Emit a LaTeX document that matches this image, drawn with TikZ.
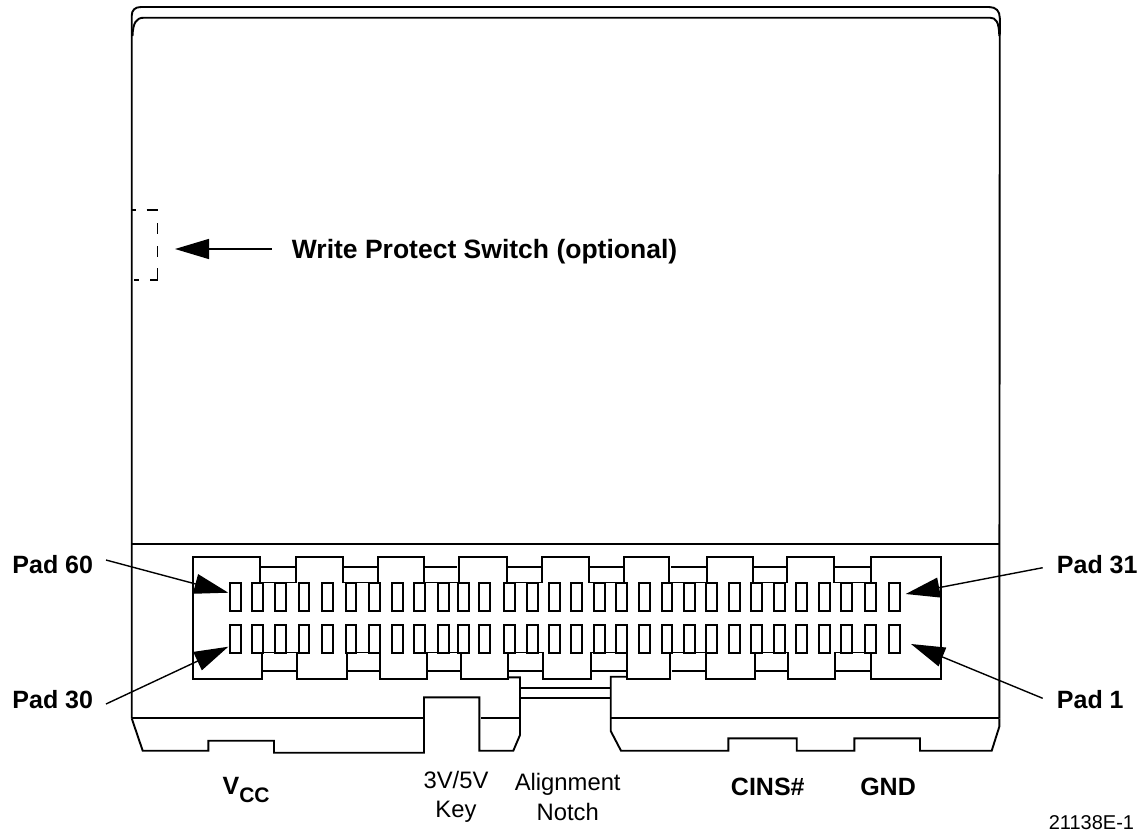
\documentclass[tikz,border=0pt]{standalone}
\usepackage{fontspec}
\setmainfont{Liberation Sans}
\usetikzlibrary{arrows.meta}

\begin{document}
\begin{tikzpicture}[x=1pt,y=-1pt,line width=1.9pt,line join=miter,
                    callout/.style={line width=1.4pt,-{Triangle[length=34pt,width=20pt]}},
                    padbox/.style={draw,fill=white,inner sep=0pt,minimum width=10.8pt,minimum height=28.1pt},
                    boldlabel/.style={font=\bfseries\fontsize{25}{25}\selectfont,inner sep=0pt},
                    keylabel/.style={font=\fontsize{23.8}{29.3}\selectfont,align=center,inner sep=0pt}]
  \useasboundingbox (0,0) rectangle (1146,831);

  % card body
  \draw (131.7,718.3) -- (131.7,16) .. controls (131.7,10) and (135,7) .. (141,7) -- (989,7)
        .. controls (996,7) and (999.8,11) .. (999.8,18) -- (999.3,718.3);
  \draw (132.5,36) .. controls (133,23) and (136,17.7) .. (144,17.7) -- (990,17.7)
        .. controls (996,17.7) and (999,22) .. (999.3,36);
  \draw (131.7,543.7) -- (999.3,543.7);

  % write protect
  \draw[line width=1.5pt,dash pattern=on 4pt off 11pt on 12pt off 12pt on 11pt off 12pt on 11pt off 11pt on 20pt off 11pt on 5pt]
        (131.7,210) -- (157.7,210) -- (157.7,280) -- (131.7,280);

  % socket outline
  \draw (192.7,679.3) -- (192.7,557.3) -- (260,557.3) -- (260,582.5) -- (295.7,582.5) -- (295.7,557.3)
        -- (342.7,557.3) -- (342.7,582.5) -- (378.3,582.5) -- (378.3,557.3)
        -- (424,557.3) -- (424,582.5) -- (458.7,582.5) -- (458.7,557.3)
        -- (507.3,557.3) -- (507.3,582.5) -- (542.3,582.5) -- (542.3,557.3)
        -- (588.7,557.3) -- (588.7,582.5) -- (624,582.5) -- (624,557.3)
        -- (669.3,557.3) -- (669.3,582.5) -- (706.7,582.5) -- (706.7,557.3)
        -- (753.3,557.3) -- (753.3,582.5) -- (786.7,582.5) -- (786.7,557.3)
        -- (834,557.3) -- (834,582.5) -- (871,582.5) -- (871,557.3)
        -- (941.3,557.3) -- (941.3,679.3) -- (871,679.3) -- (871,652.5) -- (835,652.5) -- (835,679.3)
        -- (787.7,679.3) -- (787.7,652.5) -- (755.3,652.5) -- (755.3,679.3)
        -- (706,679.3) -- (706,652.5) -- (670,652.5) -- (670,679.3)
        -- (626.7,679.3) -- (626.7,652.5) -- (590.7,652.5) -- (590.7,679.3)
        -- (543.3,679.3) -- (543.3,652.5) -- (508.3,652.5) -- (508.3,679.3)
        -- (461,679.3) -- (461,652.5) -- (427.3,652.5) -- (427.3,679.3)
        -- (380,679.3) -- (380,652.5) -- (346.7,652.5) -- (346.7,679.3)
        -- (296.7,679.3) -- (296.7,652.5) -- (261.7,652.5) -- (261.7,679.3) -- cycle;
  \foreach \a/\b in {260/295.7,342.7/378.3,424/456.7,507.3/542.3,588.7/624,671/706.7,753.3/786.7,834/871}
    \draw (\a,566.7) -- (\b,566.7);
  \foreach \a/\b in {261.7/296.7,346.7/380,427.3/461,508.3/543.3,590.7/626.7,671.7/706,755.3/787.7,835/871}
    \draw (\a,670.7) -- (\b,670.7);

  % edge with key and notch
  \draw (508.3,677.3) -- (520,677.3) -- (520,735) -- (513.3,750.7) -- (479.3,750.7) -- (479.3,697.3)
        -- (424,697.3) -- (424,752.7) -- (274,752.7) -- (274,740.7) -- (208.3,740.7) -- (208.3,750.7)
        -- (142.7,750.7) -- (131.7,718.3);
  \draw (626.7,676.7) -- (610.7,676.7) -- (610.7,731) -- (621,750.7) -- (728.3,750.7) -- (728.3,738.3)
        -- (796.7,738.3) -- (796.7,750.7) -- (854.3,750.7) -- (854.3,738.3) -- (920,738.3) -- (920,750.7)
        -- (991.7,750.7) -- (999.3,726.7) -- (999.3,718.3);
  \draw (131.7,718) -- (424,718);
  \draw (481,718) -- (520,718);
  \draw (610.7,718) -- (999.3,718);
  \draw (520,688.3) -- (610.7,688.3);
  \draw (520,698.3) -- (610.7,698.3);

  % pads
  \foreach \x [count=\n] in {235.7,257.2,280.5,304,327.7,351,374.7,397.8,419.7,443.2,
                             463.7,484.2,509.5,532.2,554.5,576.8,599.3,621.8,644.3,667,
                             689.3,711.5,734.2,756.7,779.2,801.7,824.2,846.7,870.7,894.2}{
    \node[padbox] (top\n) at (\x,596.7) {};
    \node[padbox] (bot\n) at (\x,638.7) {};
  }

  % labels
  \node[boldlabel,font=\bfseries\fontsize{26.5}{26.5}\selectfont,anchor=base west] (wps) at (291,258.3)
       {Write Protect Switch (optional)};
  \node[boldlabel,anchor=base east] (pad60) at (94,573.3)    {Pad 60};
  \node[boldlabel,anchor=base east] (pad30) at (94,708.7)    {Pad 30};
  \node[boldlabel,anchor=base west] (pad31) at (1056,573.3)  {Pad 31};
  \node[boldlabel,anchor=base west] (pad1)  at (1056,708.7)  {Pad 1};
  \node[boldlabel,anchor=base west] (vcc)   at (221.7,794)
       {V\lower8pt\hbox{\fontsize{21}{21}\selectfont CC}};
  \node[boldlabel,anchor=base west] (cins)  at (730,795)     {CINS\#};
  \node[boldlabel,anchor=base west] (gnd)   at (859.3,795)   {GND};
  \node[keylabel]                   (key)   at (456,797)     {3V/5V\\Key};
  \node[keylabel]                   (notch) at (567.7,797)   {Alignment\\Notch};
  \node[font=\fontsize{20}{20}\selectfont,inner sep=0pt,anchor=base east] (figno) at (1135,829) {21138E-1};

  % callouts
  \coordinate (wpsTail) at (271.7,249);
  \coordinate (wpsTip)  at (175,249);
  \coordinate (p60Tail) at (106,560);
  \coordinate (p60Tip)  at (228.3,592.7);
  \coordinate (p30Tail) at (106,704);
  \coordinate (p30Tip)  at (228.3,646.7);
  \coordinate (p31Tail) at (1042.7,567.7);
  \coordinate (p31Tip)  at (905.7,594);
  \coordinate (p1Tail)  at (1042.7,698.3);
  \coordinate (p1Tip)   at (911,644);

  \draw[callout] (wpsTail) -- (wpsTip);
  \draw[callout] (p60Tail) -- (p60Tip);
  \draw[callout] (p30Tail) -- (p30Tip);
  \draw[callout] (p31Tail) -- (p31Tip);
  \draw[callout] (p1Tail)  -- (p1Tip);
\end{tikzpicture}
\end{document}
